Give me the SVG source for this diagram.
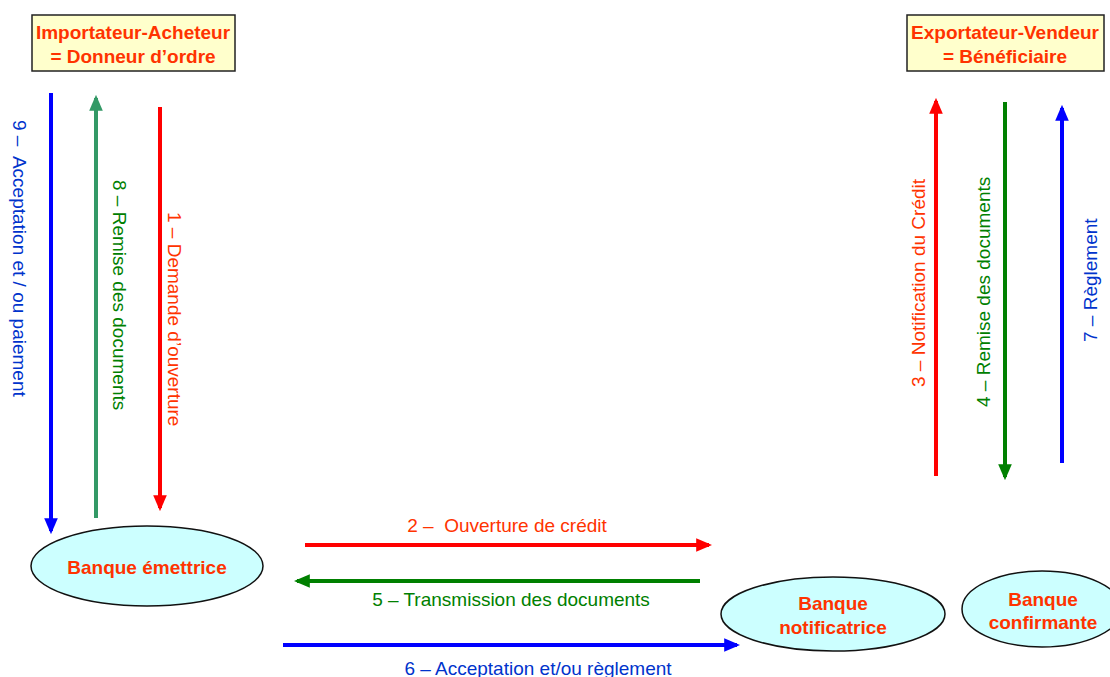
<svg xmlns="http://www.w3.org/2000/svg" width="1110" height="677" viewBox="0 0 1110 677">
<style>
.box{fill:#ffffcc;stroke:#222;stroke-width:1.5}
.ell{fill:#ccffff;stroke:#111;stroke-width:1.5}
.t{font-family:"Liberation Sans",Arial,sans-serif}
.hd{font-size:19px;font-weight:bold;fill:#ff3300;text-anchor:middle}
.bk{font-size:19px;font-weight:bold;fill:#ff3300;text-anchor:middle}
.lb{font-size:19px}
.red{fill:#ff3300}.grn{fill:#008000}.blu{fill:#0033cc}
.ln{fill:none;stroke-width:4}
</style>
<defs>
<marker id="aR" markerWidth="4" markerHeight="4" refX="3.2" refY="2" orient="auto" markerUnits="strokeWidth" viewBox="0 0 4 4"><path d="M0,0.3 L4,2 L0,3.7 Z" fill="#ff0000"/></marker>
<marker id="aG" markerWidth="4" markerHeight="4" refX="3.2" refY="2" orient="auto" markerUnits="strokeWidth" viewBox="0 0 4 4"><path d="M0,0.3 L4,2 L0,3.7 Z" fill="#008000"/></marker>
<marker id="aG2" markerWidth="4" markerHeight="4" refX="3.2" refY="2" orient="auto" markerUnits="strokeWidth" viewBox="0 0 4 4"><path d="M0,0.3 L4,2 L0,3.7 Z" fill="#339966"/></marker>
<marker id="aB" markerWidth="4" markerHeight="4" refX="3.2" refY="2" orient="auto" markerUnits="strokeWidth" viewBox="0 0 4 4"><path d="M0,0.3 L4,2 L0,3.7 Z" fill="#0000ff"/></marker>
</defs>

<g id="importateur">
<rect class="box" x="32" y="15" width="203" height="56"/>
<text class="t hd" x="133" y="39">Importateur-Acheteur</text>
<text class="t hd" x="133" y="63">= Donneur d’ordre</text>
</g>
<g id="exportateur">
<rect class="box" x="907" y="15" width="197" height="56"/>
<text class="t hd" x="1005" y="39">Exportateur-Vendeur</text>
<text class="t hd" x="1005" y="63">= Bénéficiaire</text>
</g>
<g id="banque-emettrice">
<ellipse class="ell" cx="147" cy="566" rx="116" ry="40"/>
<text class="t bk" x="147" y="574">Banque émettrice</text>
</g>
<g id="banque-notificatrice">
<ellipse class="ell" cx="833" cy="614" rx="112" ry="37"/>
<text class="t bk" x="833" y="610">Banque</text>
<text class="t bk" x="833" y="634">notificatrice</text>
</g>
<g id="banque-confirmante">
<ellipse class="ell" cx="1042" cy="609" rx="80" ry="38"/>
<text class="t bk" x="1043" y="606">Banque</text>
<text class="t bk" x="1043" y="629">confirmante</text>
</g>

<g id="connectors">
<line class="ln" x1="51" y1="93" x2="51" y2="531" stroke="#0000ff" marker-end="url(#aB)"/>
<line class="ln" x1="96" y1="518" x2="96" y2="98" stroke="#339966" marker-end="url(#aG2)"/>
<line class="ln" x1="160" y1="107" x2="160" y2="508" stroke="#ff0000" marker-end="url(#aR)"/>
<line class="ln" x1="936" y1="476" x2="936" y2="101" stroke="#ff0000" marker-end="url(#aR)"/>
<line class="ln" x1="1005" y1="102" x2="1005" y2="477" stroke="#008000" marker-end="url(#aG)"/>
<line class="ln" x1="1062" y1="463" x2="1062" y2="108" stroke="#0000ff" marker-end="url(#aB)"/>
<line class="ln" x1="305" y1="545" x2="709" y2="545" stroke="#ff0000" marker-end="url(#aR)"/>
<line class="ln" x1="700" y1="581" x2="297" y2="581" stroke="#008000" marker-end="url(#aG)"/>
<line class="ln" x1="283" y1="645" x2="737" y2="645" stroke="#0000ff" marker-end="url(#aB)"/>

<text class="t lb blu" transform="translate(13,120) rotate(90)">9 –&#160; Acceptation et / ou paiement</text>
<text class="t lb grn" transform="translate(113,180) rotate(90)">8 – Remise des documents</text>
<text class="t lb red" transform="translate(168,212) rotate(90)">1 – Demande d’ouverture</text>
<text class="t lb red" transform="translate(925,387) rotate(-90)">3 – Notification du Crédit</text>
<text class="t lb grn" transform="translate(990,407) rotate(-90)">4 – Remise des documents</text>
<text class="t lb blu" transform="translate(1097,342) rotate(-90)">7 – Règlement</text>
<text class="t lb red" x="507" y="532" text-anchor="middle">2 –&#160; Ouverture de crédit</text>
<text class="t lb grn" x="511" y="606" text-anchor="middle">5 – Transmission des documents</text>
<text class="t lb blu" x="538" y="675" text-anchor="middle">6 – Acceptation et/ou règlement</text>
</g>
</svg>
